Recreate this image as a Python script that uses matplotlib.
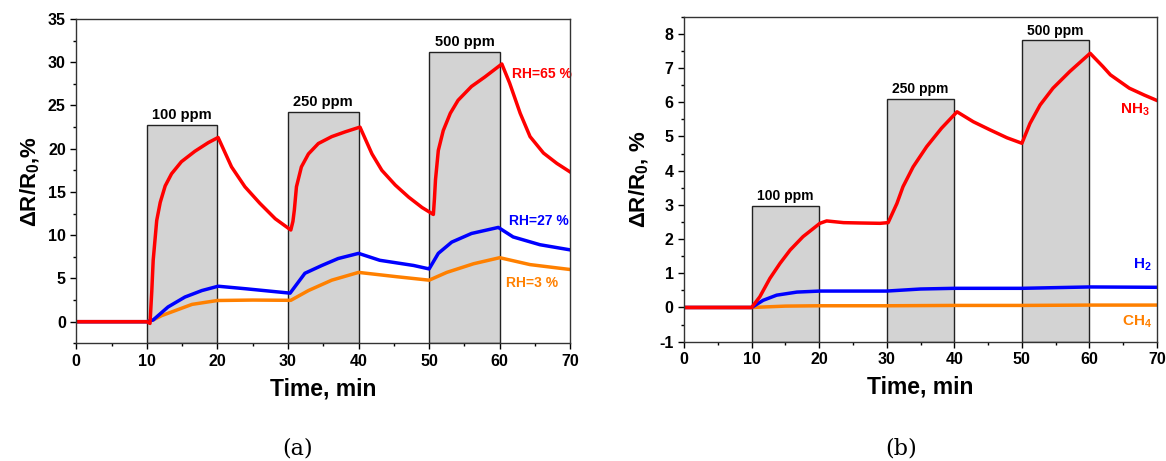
import matplotlib
matplotlib.use("Agg")
import matplotlib.pyplot as plt
from matplotlib.ticker import MultipleLocator

plt.rcParams['font.family'] = ['Liberation Sans', 'DejaVu Sans']
plt.rcParams['font.weight'] = 'bold'
plt.rcParams['axes.unicode_minus'] = False
plt.rcParams['mathtext.fontset'] = 'custom'
plt.rcParams['mathtext.rm'] = 'Liberation Sans:bold'
plt.rcParams['mathtext.it'] = 'Liberation Sans:bold'
plt.rcParams['mathtext.bf'] = 'Liberation Sans:bold'

# gas exposure windows (start, min) and box heights
pulse_start = [10, 30, 50]
pulse_len = 10
ppm_labels = ['100 ppm', '250 ppm', '500 ppm']
box_top_a = [22.8, 24.3, 31.2]
box_top_b = [2.96, 6.09, 7.81]

# (a) NH3 response at different humidity
rh65_t = [0, 5, 10, 10.45, 10.7, 10.9, 11.4, 11.9, 12.6, 13.5, 14.9, 16.8, 18.7, 20.1,
          22.0, 23.9, 26.0, 28.2, 30.4, 30.7, 30.9, 31.2, 31.9, 32.9, 34.3, 36.2, 38.1,
          40.2, 41.9, 43.3, 45.2, 47.1, 49.0, 50.6, 50.75, 50.9, 51.3, 52.0, 53.0, 54.1,
          56.0, 57.9, 60.3, 61.4, 62.9, 64.3, 66.2, 68.1, 70]
rh65_v = [0, 0, 0, -0.2, 3.5, 7.1, 11.7, 13.8, 15.7, 17.1, 18.5, 19.7, 20.7, 21.3,
          17.9, 15.6, 13.7, 11.9, 10.6, 11.6, 12.9, 15.6, 17.9, 19.4, 20.6, 21.4, 21.95,
          22.5, 19.4, 17.5, 15.8, 14.4, 13.2, 12.4, 14.2, 16.4, 19.8, 22.1, 24.1, 25.6,
          27.2, 28.3, 29.8, 27.6, 24.1, 21.4, 19.5, 18.3, 17.3]

rh27_t = [0, 5, 10, 10.9, 13.0, 15.4, 17.8, 20.1, 24.1, 30.3, 32.4, 34.8, 37.1,
          40.0, 43.0, 47.8, 50.0, 51.3, 53.2, 56.0, 59.8, 61.9, 65.7, 70]
rh27_v = [0, 0, 0, 0.2, 1.7, 2.85, 3.6, 4.1, 3.8, 3.3, 5.6, 6.5, 7.3,
          7.9, 7.1, 6.5, 6.1, 7.9, 9.2, 10.2, 10.9, 9.8, 8.9, 8.3]

rh3_t = [0, 5, 10, 10.9, 12.1, 16.4, 20.0, 25.0, 30.4, 32.9, 36.2, 40.0,
         45.4, 50.0, 52.5, 56.3, 60.0, 64.3, 69.8]
rh3_v = [0, 0, 0, 0.2, 0.7, 2.0, 2.45, 2.5, 2.47, 3.6, 4.8, 5.7,
         5.2, 4.8, 5.7, 6.7, 7.4, 6.6, 6.05]

# (b) response to different gases
nh3_t = [0, 5, 10, 11.2, 12.7, 14.2, 15.7, 17.6, 20.1, 21.1, 23.6, 26.0, 29.0,
         30.2, 31.5, 32.4, 33.9, 35.9, 38.1, 40.4, 42.8, 45.3, 47.8, 50.0, 51.2,
         52.7, 54.6, 57.1, 60.1, 62.0, 63.1, 65.9, 68.1, 70]
nh3_v = [0, 0, 0, 0.31, 0.85, 1.29, 1.68, 2.07, 2.46, 2.53, 2.48, 2.47, 2.46,
         2.48, 3.04, 3.53, 4.11, 4.70, 5.24, 5.72, 5.43, 5.19, 4.96, 4.80, 5.38,
         5.92, 6.41, 6.90, 7.43, 7.04, 6.80, 6.41, 6.21, 6.05]

h2_t = [0, 5, 10, 11.7, 13.7, 16.7, 20.1, 30.0, 35.0, 40.0, 50.0, 55.0, 60.0, 70]
h2_v = [0, 0, 0, 0.21, 0.36, 0.45, 0.48, 0.48, 0.54, 0.56, 0.56, 0.58, 0.60, 0.59]

ch4_t = [0, 10, 15, 20, 30, 40, 50, 60, 70]
ch4_v = [0, 0, 0.04, 0.05, 0.05, 0.06, 0.06, 0.07, 0.07]

RED = '#ff0000'
BLUE = '#0000ff'
ORANGE = '#ff8000'

fig = plt.figure(figsize=(11.66, 4.61), dpi=100)
ax1 = fig.add_axes([0.0654, 0.2553, 0.4237, 0.7035])
ax2 = fig.add_axes([0.5867, 0.2588, 0.4056, 0.7050])


def draw_boxes(ax, tops, ymin, fs):
    for x0, top, lab in zip(pulse_start, tops, ppm_labels):
        ax.bar(x0, top - ymin, width=pulse_len, bottom=ymin, align='edge',
               color='#d3d3d3', edgecolor='#222222', linewidth=1.0, zorder=1)
        ax.annotate(lab, (x0 + pulse_len / 2, top), xytext=(0, 2),
                    textcoords='offset points', ha='center', va='bottom',
                    fontsize=fs, fontweight='bold')


def style_axes(ax, ymin, ymax, ymaj, ymin_step, ylabel, lpad):
    ax.set_xlim(0, 70)
    ax.set_ylim(ymin, ymax)
    ax.xaxis.set_major_locator(MultipleLocator(10))
    ax.xaxis.set_minor_locator(MultipleLocator(5))
    ax.yaxis.set_major_locator(MultipleLocator(ymaj))
    ax.yaxis.set_minor_locator(MultipleLocator(ymin_step))
    ax.tick_params(which='major', direction='out', length=4, width=1, labelsize=11.5)
    ax.tick_params(which='minor', direction='out', length=2, width=1)
    for lab in ax.get_xticklabels() + ax.get_yticklabels():
        lab.set_fontweight('bold')
    for sp in ax.spines.values():
        sp.set_linewidth(1.0)
        sp.set_color('#333333')
        sp.set_zorder(5)
    ax.set_xlabel('Time, min', fontsize=16.5, fontweight='bold', labelpad=6)
    ax.set_ylabel(ylabel, fontsize=16, fontweight='bold', labelpad=lpad)


# panel (a)
draw_boxes(ax1, box_top_a, -2.5, 10.5)
ax1.plot(rh3_t, rh3_v, color=ORANGE, lw=2.5, zorder=3)
ax1.plot(rh27_t, rh27_v, color=BLUE, lw=2.5, zorder=3)
ax1.plot(rh65_t, rh65_v, color=RED, lw=2.5, zorder=4)
ax1.text(61.7, 28.6, 'RH=65 %', color=RED, fontsize=10, fontweight='bold', va='center')
ax1.text(61.3, 11.6, 'RH=27 %', color=BLUE, fontsize=10, fontweight='bold', va='center')
ax1.text(60.9, 4.5, 'RH=3 %', color=ORANGE, fontsize=10, fontweight='bold', va='center')
style_axes(ax1, -2.5, 35, 5, 2.5, r'ΔR/R$_0$,%', 4)

# panel (b)
draw_boxes(ax2, box_top_b, -1, 10)
ax2.plot(ch4_t, ch4_v, color=ORANGE, lw=2.5, zorder=3)
ax2.plot(h2_t, h2_v, color=BLUE, lw=2.5, zorder=3)
ax2.plot(nh3_t, nh3_v, color=RED, lw=2.5, zorder=4)
ax2.text(64.5, 5.77, r'NH$_3$', color=RED, fontsize=11, fontweight='bold', va='center')
ax2.text(66.4, 1.24, r'H$_2$', color=BLUE, fontsize=11, fontweight='bold', va='center')
ax2.text(64.8, -0.42, r'CH$_4$', color=ORANGE, fontsize=11, fontweight='bold', va='center')
style_axes(ax2, -1, 8.5, 1, 0.5, r'ΔR/R$_0$, %', 6)

fig.text(0.2556, 0.028, '(a)', fontsize=16, family='DejaVu Serif',
         fontweight='normal', ha='center', va='center')
fig.text(0.7727, 0.028, '(b)', fontsize=16, family='DejaVu Serif',
         fontweight='normal', ha='center', va='center')

fig.savefig('out.png', dpi=100)
